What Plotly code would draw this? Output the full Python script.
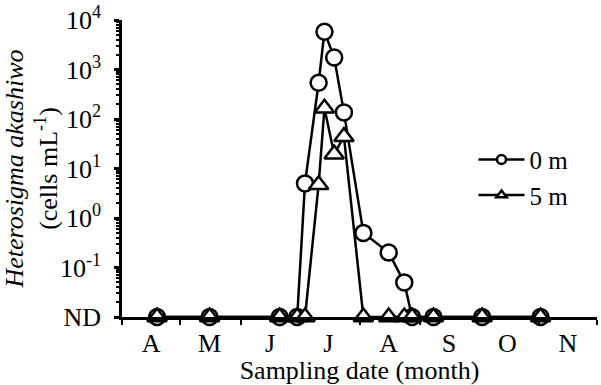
import plotly.graph_objects as go

# ---- data ----
sampling_dates = ["2010-04-19", "2010-05-16", "2010-06-21", "2010-06-30", "2010-07-04",
                  "2010-07-11", "2010-07-14", "2010-07-19", "2010-07-24", "2010-08-03",
                  "2010-08-16", "2010-08-24", "2010-08-28", "2010-09-08", "2010-10-03",
                  "2010-11-02"]
cells_0m = ["ND", "ND", "ND", "ND", 5, 540, 5800, 1750, 136, 0.5, 0.2, 0.05,
            "ND", "ND", "ND", "ND"]
cells_5m = ["ND", "ND", "ND", "ND", "ND", 4.7, 165, 19.5, 44, "ND", "ND", "ND",
            "ND", "ND", "ND", "ND"]

month_labels = ["A", "M", "J", "J", "A", "S", "O", "N"]
month_mid = ["2010-04-16", "2010-05-16", "2010-06-16", "2010-07-16",
             "2010-08-16", "2010-09-16", "2010-10-16", "2010-11-16"]
month_starts = ["2010-04-01", "2010-05-01", "2010-06-01", "2010-07-01", "2010-08-01",
                "2010-09-01", "2010-10-01", "2010-11-01", "2010-12-01"]

ND_LEVEL = 0.01
y_tickvals = [0.01, 0.1, 1, 10, 100, 1000, 10000]
y_ticktext = ["ND", "10<sup>-1</sup>", "10<sup>0</sup>", "10<sup>1</sup>",
              "10<sup>2</sup>", "10<sup>3</sup>", "10<sup>4</sup>"]


def to_plot(vals):
    return [ND_LEVEL if v == "ND" else v for v in vals]


minor_vals = [m * d for d in [0.01, 0.1, 1, 10, 100, 1000] for m in range(2, 10)]

FONT = "Liberation Serif"
FS = 26
LW = 2.5

fig = go.Figure()
series = [("0 m", cells_0m, "circle", 16), ("5 m", cells_5m, "triangle-up", 17)]
for name, vals, sym, sz in series:
    fig.add_trace(go.Scatter(
        x=sampling_dates, y=to_plot(vals), mode="lines+markers", name=name,
        showlegend=False, cliponaxis=False,
        line=dict(color="black", width=LW),
        marker=dict(symbol=sym, size=sz, color="white",
                    line=dict(color="black", width=LW)),
    ))
# legend entries with smaller markers
for name, vals, sym, sz in series:
    fig.add_trace(go.Scatter(
        x=[None], y=[None], mode="lines+markers", name=name,
        line=dict(color="black", width=LW),
        marker=dict(symbol=sym, size=9, color="white",
                    line=dict(color="black", width=LW)),
    ))

fig.update_layout(
    width=601, height=385,
    margin=dict(l=122, r=4, t=20, b=68, autoexpand=False),
    paper_bgcolor="white", plot_bgcolor="white",
    font=dict(family=FONT, size=FS, color="black"),
    showlegend=True,
    legend=dict(x=0.74, y=0.607, xanchor="left", yanchor="top",
                bgcolor="rgba(0,0,0,0)", font=dict(size=25),
                itemwidth=46, tracegroupgap=0),
    xaxis=dict(
        type="date", range=["2010-04-01", "2010-12-01"], automargin=False,
        tickmode="array", tickvals=month_mid, ticktext=month_labels,
        ticks="", ticklabelstandoff=1,
        showline=True, linecolor="black", linewidth=LW,
        showgrid=False, zeroline=False,
        minor=dict(tickmode="array", tickvals=month_starts, ticks="outside",
                   ticklen=5, tickwidth=2, tickcolor="black", showgrid=False),
        title=dict(text="Sampling date (month)", standoff=4,
                   font=dict(size=FS)),
    ),
    yaxis=dict(
        type="log", range=[-2, 4], automargin=False,
        tickmode="array", tickvals=y_tickvals, ticktext=y_ticktext,
        ticks="outside", ticklen=5, tickwidth=2.5, tickcolor="black",
        ticklabelstandoff=8,
        showline=True, linecolor="black", linewidth=LW,
        showgrid=False, zeroline=False,
        minor=dict(tickmode="array", tickvals=minor_vals, ticks="outside",
                   ticklen=3, tickwidth=1.5, tickcolor="black", showgrid=False),
        title=dict(text="<i>Heterosigma akashiwo</i><br>(cells mL<sup>-1</sup>)",
                   standoff=2, font=dict(size=FS)),
    ),
)

fig.write_html("out.html", config={"displayModeBar": False},
               post_script="document.body.style.margin='0';document.body.style.padding='0';")
